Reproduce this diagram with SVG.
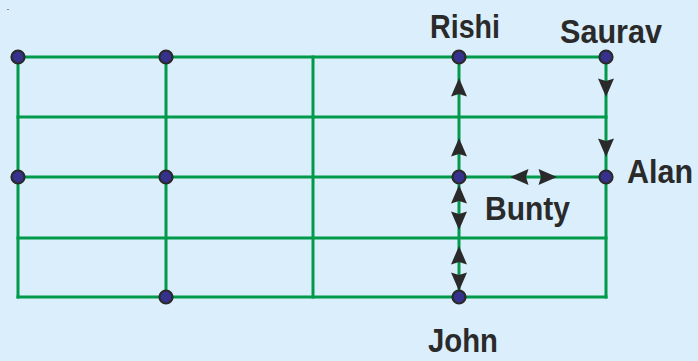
<svg xmlns="http://www.w3.org/2000/svg" width="698" height="361" viewBox="0 0 698 361">
  <defs>
    <style>
      .grid { stroke: #009a4a; stroke-width: 3; fill: none; stroke-linecap: square; }
      .dot { fill: #35318c; stroke: #2a2a2a; stroke-width: 2.2; }
      .label { font-family: "Liberation Sans", Arial, sans-serif; font-weight: bold; font-size: 33px; fill: #2a2a2a; }
      .head { fill: #2a2a2a; }
    </style>
    <!-- arrowhead pointing up, tip at origin -->
    <polygon id="up" class="head" points="0,0 8,18.5 0,16 -8,18.5"/>
  </defs>

  <rect width="698" height="361" fill="#daeefb"/>
  <rect x="7" y="9" width="2" height="1" fill="#8a8f96"/>

  <!-- street grid -->
  <g id="grid" class="grid">
    <line x1="18" y1="57" x2="606" y2="57"/>
    <line x1="18" y1="117" x2="606" y2="117"/>
    <line x1="18" y1="177" x2="606" y2="177"/>
    <line x1="18" y1="238" x2="606" y2="238"/>
    <line x1="18" y1="297" x2="606" y2="297"/>
    <line x1="18" y1="57" x2="18" y2="297"/>
    <line x1="166" y1="57" x2="166" y2="297"/>
    <line x1="313" y1="57" x2="313" y2="297"/>
    <line x1="459" y1="57" x2="459" y2="297"/>
    <line x1="606" y1="57" x2="606" y2="297"/>
  </g>

  <!-- direction arrows along the streets -->
  <g id="connectors">
    <use href="#up" transform="translate(459,78)"/>
    <use href="#up" transform="translate(459,138)"/>
    <use href="#up" transform="translate(459,185)"/>
    <use href="#up" transform="translate(459,230) rotate(180)"/>
    <use href="#up" transform="translate(459,246)"/>
    <use href="#up" transform="translate(459,291) rotate(180)"/>
    <use href="#up" transform="translate(606,97) rotate(180)"/>
    <use href="#up" transform="translate(606,157) rotate(180)"/>
    <use href="#up" transform="translate(510,177) rotate(-90)"/>
    <use href="#up" transform="translate(557,177) rotate(90)"/>
  </g>

  <!-- intersections -->
  <g id="n-0-0"><circle class="dot" cx="18" cy="57" r="6.5"/></g>
  <g id="n-1-0"><circle class="dot" cx="166" cy="57" r="6.5"/></g>
  <g id="n-0-2"><circle class="dot" cx="18" cy="177" r="6.5"/></g>
  <g id="n-1-2"><circle class="dot" cx="166" cy="177" r="6.5"/></g>
  <g id="n-1-4"><circle class="dot" cx="166" cy="297" r="6.5"/></g>

  <g id="rishi">
    <circle class="dot" cx="459" cy="57" r="6.5"/>
    <text class="label" x="430" y="38" textLength="70" lengthAdjust="spacingAndGlyphs">Rishi</text>
  </g>
  <g id="saurav">
    <circle class="dot" cx="606" cy="57" r="6.5"/>
    <text class="label" x="560" y="43" textLength="102" lengthAdjust="spacingAndGlyphs">Saurav</text>
  </g>
  <g id="alan">
    <circle class="dot" cx="606" cy="177" r="6.5"/>
    <text class="label" x="627" y="183" textLength="66" lengthAdjust="spacingAndGlyphs">Alan</text>
  </g>
  <g id="bunty">
    <circle class="dot" cx="459" cy="177" r="6.5"/>
    <text class="label" x="485" y="220" textLength="85" lengthAdjust="spacingAndGlyphs">Bunty</text>
  </g>
  <g id="john">
    <circle class="dot" cx="459" cy="297" r="6.5"/>
    <text class="label" x="428" y="352" textLength="70" lengthAdjust="spacingAndGlyphs">John</text>
  </g>
</svg>
